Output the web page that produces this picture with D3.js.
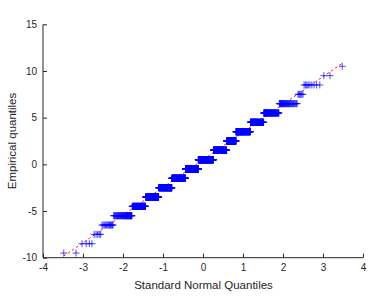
<!DOCTYPE html>
<html>
<head>
<meta charset="utf-8">
<script src="https://cdn.jsdelivr.net/npm/d3@7"></script>
<style>
  html, body { margin: 0; padding: 0; background: #fff; }
  svg { display: block; }
  text { font-family: "Liberation Sans", Arial, Helvetica, sans-serif; fill: #262626; }
</style>
</head>
<body>
<svg id="chart" width="374" height="299"></svg>
<script>
// Discrete empirical levels and how many observations fall on each (n = 2000)
const levels = [-9.5, -8.5, -7.5, -6.5, -5.5, -4.5, -3.5, -2.5, -1.5, -0.5, 0.5, 1.5, 2.5, 3.5, 4.5, 5.5, 6.5, 7.5, 8.5, 9.5, 10.5];
const counts = [2, 4, 5, 14, 51, 75, 117, 168, 227, 243, 299, 240, 146, 173, 107, 72, 39, 6, 9, 2, 1];
const xTicks = [-4, -3, -2, -1, 0, 1, 2, 3, 4];
const yTicks = [-10, -5, 0, 5, 10, 15];
const xLabel = "Standard Normal Quantiles";
const yLabel = "Empirical quantiles";

// inverse standard normal CDF (Acklam)
function norminv(p) {
  const a = [-3.969683028665376e+01, 2.209460984245205e+02, -2.759285104469687e+02, 1.383577518672690e+02, -3.066479806614716e+01, 2.506628277459239e+00];
  const b = [-5.447609879822406e+01, 1.615858368580409e+02, -1.556989798598866e+02, 6.680131188771972e+01, -1.328068155288572e+01];
  const c = [-7.784894002430293e-03, -3.223964580411365e-01, -2.400758277161838e+00, -2.549732539343734e+00, 4.374664141464968e+00, 2.938163982698783e+00];
  const d = [7.784695709041462e-03, 3.224671290700398e-01, 2.445134137142996e+00, 3.754408661907416e+00];
  const pl = 0.02425, ph = 1 - pl;
  let q, r;
  if (p < pl) {
    q = Math.sqrt(-2 * Math.log(p));
    return (((((c[0]*q+c[1])*q+c[2])*q+c[3])*q+c[4])*q+c[5]) / ((((d[0]*q+d[1])*q+d[2])*q+d[3])*q+1);
  } else if (p <= ph) {
    q = p - 0.5; r = q * q;
    return (((((a[0]*r+a[1])*r+a[2])*r+a[3])*r+a[4])*r+a[5])*q / (((((b[0]*r+b[1])*r+b[2])*r+b[3])*r+b[4])*r+1);
  } else {
    q = Math.sqrt(-2 * Math.log(1 - p));
    return -(((((c[0]*q+c[1])*q+c[2])*q+c[3])*q+c[4])*q+c[5]) / ((((d[0]*q+d[1])*q+d[2])*q+d[3])*q+1);
  }
}

// sorted sample
const sample = [];
levels.forEach((v, i) => { for (let k = 0; k < counts[i]; k++) sample.push(v); });
const n = sample.length;
const pts = sample.map((v, i) => ({ x: norminv((i + 0.5) / n), y: v }));

// reference line through first and third quartiles
const q1 = d3.quantile(sample, 0.25), q3 = d3.quantile(sample, 0.75);
const z1 = norminv(0.25), z3 = norminv(0.75);
const slope = (q3 - q1) / (z3 - z1);
const icpt = q1 - slope * z1;
const xmin = pts[0].x, xmax = pts[n - 1].x;

const svg = d3.select("#chart");
const L = 43, R = 363, T = 24.3, B = 257.7;
const x = d3.scaleLinear().domain([-4, 4]).range([L, R]);
const y = d3.scaleLinear().domain([-10, 15]).range([B, T]);
const axisColor = "#262626";

// line
svg.append("line")
  .attr("x1", x(xmin)).attr("y1", y(icpt + slope * xmin))
  .attr("x2", x(xmax)).attr("y2", y(icpt + slope * xmax))
  .attr("stroke", "#ff0000").attr("stroke-width", 0.9)
  .attr("stroke-dasharray", "2.5,2.5");

// markers
const h = 3.5;
svg.append("g").selectAll("path").data(pts).join("path")
  .attr("d", d => `M${x(d.x) - h},${y(d.y)}H${x(d.x) + h}M${x(d.x)},${y(d.y) - h}V${y(d.y) + h}`)
  .attr("stroke", "#0000ff").attr("stroke-width", 0.7).attr("fill", "none");

// axes
const fmt = d => String(d);
const xAxis = d3.axisBottom(x).tickValues(xTicks).tickSize(-4).tickPadding(6).tickFormat(fmt);
const yAxis = d3.axisLeft(y).tickValues(yTicks).tickSize(-4).tickPadding(6).tickFormat(fmt);
const gx = svg.append("g").attr("transform", `translate(0,${B})`).call(xAxis);
const gy = svg.append("g").attr("transform", `translate(${L},0)`).call(yAxis);
[gx, gy].forEach(g => {
  g.select(".domain").attr("stroke", axisColor);
  g.selectAll(".tick line").attr("stroke", axisColor);
  g.selectAll(".tick text").attr("fill", axisColor).style("font-size", "10px")
    .style("font-family", '"Liberation Sans", Arial, sans-serif');
});
gx.select(".domain").attr("d", `M${L},0H${R}`);
gy.select(".domain").attr("d", `M0,${B}V${T}`);

svg.append("text").attr("x", (L + R) / 2 + 0.5).attr("y", 289)
  .attr("text-anchor", "middle").style("font-size", "11.5px").text(xLabel);
svg.append("text").attr("transform", `translate(16,${(T + B) / 2}) rotate(-90)`)
  .attr("text-anchor", "middle").style("font-size", "11.5px").text(yLabel);
</script>
</body>
</html>
